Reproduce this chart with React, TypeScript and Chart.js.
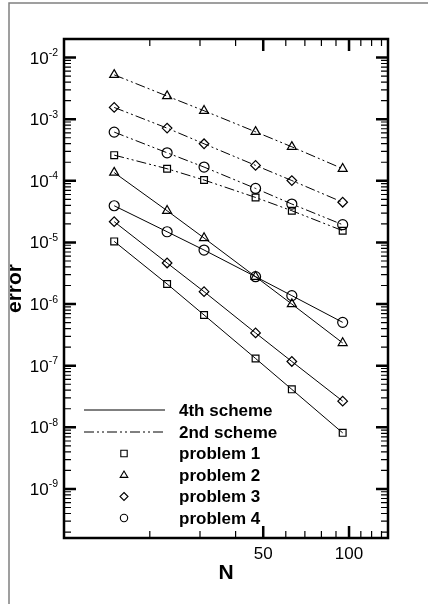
import React, { useEffect, useRef } from "react";
import { Chart, registerables } from "chart.js";

Chart.register(...registerables);

const N = [15, 23, 31, 47, 63, 95];

const p1Fourth = [1.04e-5, 2.12e-6, 6.65e-7, 1.31e-7, 4.13e-8, 8.13e-9];
const p2Fourth = [1.36e-4, 3.27e-5, 1.18e-5, 2.78e-6, 1.0e-6, 2.34e-7];
const p3Fourth = [2.17e-5, 4.64e-6, 1.59e-6, 3.4e-7, 1.17e-7, 2.66e-8];
const p4Fourth = [3.94e-5, 1.49e-5, 7.53e-6, 2.78e-6, 1.37e-6, 5.05e-7];

const p1Second = [2.61e-4, 1.57e-4, 1.03e-4, 5.37e-5, 3.27e-5, 1.55e-5];
const p2Second = [5.24e-3, 2.37e-3, 1.37e-3, 6.24e-4, 3.56e-4, 1.57e-4];
const p3Second = [1.55e-3, 7.16e-4, 3.99e-4, 1.78e-4, 1.01e-4, 4.49e-5];
const p4Second = [6.17e-4, 2.85e-4, 1.67e-4, 7.52e-5, 4.2e-5, 1.94e-5];

const xMajorTicks = [50, 100];
const xMinorTicks = [20, 30, 40, 60, 70, 80, 90, 110, 120, 130];
const yDecadeExponents = [-9, -8, -7, -6, -5, -4, -3, -2];

const legendLines = ["4th scheme", "2nd scheme"];
const legendMarkers = ["problem 1", "problem 2", "problem 3", "problem 4"];
const markerShapes = ["square", "triangle", "diamond", "circle"];

const FONT = "'Liberation Sans', Arial, Helvetica, sans-serif";
const DASH = [10, 3, 2, 3, 2, 3];

function drawMarker(ctx: CanvasRenderingContext2D, shape: string, x: number, y: number, s: number) {
  ctx.beginPath();
  if (shape === "square") {
    ctx.rect(x - s, y - s, 2 * s, 2 * s);
  } else if (shape === "triangle") {
    const r = s * 1.25;
    ctx.moveTo(x, y - r);
    ctx.lineTo(x + r * 0.95, y + r * 0.6);
    ctx.lineTo(x - r * 0.95, y + r * 0.6);
    ctx.closePath();
  } else if (shape === "diamond") {
    const r = s * 1.25;
    ctx.moveTo(x, y - r);
    ctx.lineTo(x + r, y);
    ctx.lineTo(x, y + r);
    ctx.lineTo(x - r, y);
    ctx.closePath();
  } else {
    ctx.arc(x, y, s * 1.15, 0, Math.PI * 2);
  }
  ctx.stroke();
}

const framePlugin = {
  id: "framePlugin",
  afterDraw(chart: any) {
    const ctx: CanvasRenderingContext2D = chart.ctx;
    const { left, right, top, bottom } = chart.chartArea;
    const xs = chart.scales.x;
    const ys = chart.scales.y;
    ctx.save();

    // outer frame (top & left)
    ctx.strokeStyle = "#808080";
    ctx.lineWidth = 1.5;
    ctx.beginPath();
    ctx.moveTo(9, 604);
    ctx.lineTo(9, 3);
    ctx.lineTo(428, 3);
    ctx.stroke();

    ctx.strokeStyle = "#000";
    ctx.lineCap = "butt";

    // x ticks
    const xTick = (v: number, len: number, w: number) => {
      const px = xs.getPixelForValue(v);
      ctx.lineWidth = w;
      ctx.beginPath();
      ctx.moveTo(px, bottom);
      ctx.lineTo(px, bottom - len);
      ctx.moveTo(px, top);
      ctx.lineTo(px, top + len);
      ctx.stroke();
    };
    xMinorTicks.forEach((v) => xTick(v, 7, 1.2));
    xMajorTicks.forEach((v) => xTick(v, 12, 2.5));

    // y ticks
    const yTick = (v: number, len: number, w: number) => {
      const py = ys.getPixelForValue(v);
      if (py < top - 0.5 || py > bottom + 0.5) return;
      ctx.lineWidth = w;
      ctx.beginPath();
      ctx.moveTo(left, py);
      ctx.lineTo(left + len, py);
      ctx.moveTo(right, py);
      ctx.lineTo(right - len, py);
      ctx.stroke();
    };
    for (let e = -10; e <= -2; e++) {
      for (let m = 2; m <= 9; m++) yTick(m * Math.pow(10, e), 7, 1.2);
    }
    yDecadeExponents.forEach((e) => yTick(Math.pow(10, e), 12, 2.5));

    // box
    ctx.lineWidth = 2.5;
    ctx.strokeRect(left, top, right - left, bottom - top);

    // x tick labels
    ctx.fillStyle = "#000";
    ctx.font = `17px ${FONT}`;
    ctx.textAlign = "center";
    ctx.textBaseline = "alphabetic";
    xMajorTicks.forEach((v) => {
      ctx.fillText(String(v), xs.getPixelForValue(v), 558.5);
    });

    // y tick labels with superscripts
    yDecadeExponents.forEach((e) => {
      const py = ys.getPixelForValue(Math.pow(10, e));
      const sup = String(e);
      ctx.font = `10.5px ${FONT}`;
      const sw = ctx.measureText(sup).width;
      ctx.textAlign = "right";
      ctx.fillText(sup, 58, py - 1.5);
      ctx.font = `17px ${FONT}`;
      ctx.fillText("10", 58 - sw, py + 6);
    });

    // axis titles
    ctx.font = `bold 21px ${FONT}`;
    ctx.textAlign = "center";
    ctx.fillText("N", (left + right) / 2, 578.5);
    ctx.save();
    ctx.translate(21, (top + bottom) / 2);
    ctx.rotate(-Math.PI / 2);
    ctx.fillText("error", 0, 0);
    ctx.restore();

    // legend
    const rowY = [410, 432, 453.5, 475, 496.5, 518];
    ctx.font = `bold 17px ${FONT}`;
    ctx.textAlign = "left";
    ctx.textBaseline = "middle";
    ctx.lineWidth = 1;
    legendLines.forEach((label, i) => {
      ctx.setLineDash(i === 0 ? [] : DASH);
      ctx.beginPath();
      ctx.moveTo(84, rowY[i]);
      ctx.lineTo(165, rowY[i]);
      ctx.stroke();
      ctx.setLineDash([]);
      ctx.fillText(label, 179, rowY[i] + 1);
    });
    legendMarkers.forEach((label, i) => {
      ctx.lineWidth = 1.1;
      drawMarker(ctx, markerShapes[i], 124, rowY[i + 2], 3.2);
      ctx.fillText(label, 179, rowY[i + 2] + 1);
    });
    ctx.restore();
  },
};

function mk(label: string, values: number[], shape: string, dashed: boolean) {
  const styleMap: Record<string, any> = {
    square: { pointStyle: "rect", pointRadius: 4.8 },
    triangle: { pointStyle: "triangle", pointRadius: 5.2 },
    diamond: { pointStyle: "rectRot", pointRadius: 4.8 },
    circle: { pointStyle: "circle", pointRadius: 5 },
  };
  return {
    label,
    data: N.map((n, i) => ({ x: n, y: values[i] })),
    borderColor: "#000",
    borderWidth: 1,
    borderDash: dashed ? DASH : [],
    pointBorderColor: "#000",
    pointBackgroundColor: "rgba(0,0,0,0)",
    pointBorderWidth: 1.2,
    fill: false,
    tension: 0,
    ...styleMap[shape],
  };
}

export default function App() {
  const ref = useRef<HTMLCanvasElement | null>(null);
  useEffect(() => {
    document.body.style.margin = "0";
    const canvas = ref.current!;
    const chart = new Chart(canvas, {
      type: "line",
      data: {
        datasets: [
          mk("problem 2 (2nd)", p2Second, "triangle", true),
          mk("problem 3 (2nd)", p3Second, "diamond", true),
          mk("problem 4 (2nd)", p4Second, "circle", true),
          mk("problem 1 (2nd)", p1Second, "square", true),
          mk("problem 2 (4th)", p2Fourth, "triangle", false),
          mk("problem 4 (4th)", p4Fourth, "circle", false),
          mk("problem 3 (4th)", p3Fourth, "diamond", false),
          mk("problem 1 (4th)", p1Fourth, "square", false),
        ],
      },
      options: {
        animation: false,
        responsive: false,
        maintainAspectRatio: false,
        layout: { padding: { left: 64, top: 39, right: 40, bottom: 66 } },
        plugins: { legend: { display: false }, tooltip: { enabled: false } },
        scales: {
          x: { type: "logarithmic", min: 10, max: 137, display: false },
          y: { type: "logarithmic", min: 1.6e-10, max: 2e-2, display: false },
        },
      },
      plugins: [framePlugin],
    });
    return () => chart.destroy();
  }, []);
  return (
    <div style={{ width: 428, height: 604, background: "#fff" }}>
      <canvas ref={ref} width={428} height={604} style={{ display: "block" }} />
    </div>
  );
}
